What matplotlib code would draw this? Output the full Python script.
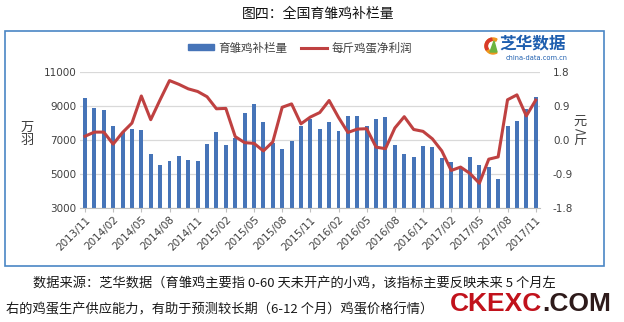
import matplotlib
matplotlib.use("Agg")
import matplotlib.pyplot as plt
from matplotlib.patches import Rectangle, Wedge, Polygon
from matplotlib.lines import Line2D
import pandas as pd

plt.rcParams['font.family'] = ['Noto Sans CJK SC', 'DejaVu Sans']

# Monthly categories 2013/11 .. 2017/11
months = [p.strftime('%Y/%m') for p in pd.period_range('2013-11', '2017-11', freq='M')]

# 育雏鸡补栏量 (万羽)
chick_stock = [9500, 8900, 8800, 7850, 7500, 7650, 7620, 6160, 5540, 5740,
               6040, 5820, 5740, 6750, 7470, 6700, 7130, 8620, 9100, 8040,
               6800, 6440, 6970, 7800, 8250, 7650, 8090, 7540, 8400, 8440,
               7830, 8230, 8330, 6690, 6160, 6010, 6620, 6560, 5960, 5700,
               5330, 5980, 5520, 5420, 4680, 7810, 8100, 8860, 9540]

# 每斤鸡蛋净利润 (元/斤)
egg_profit = [0.10, 0.21, 0.21, -0.11, 0.20, 0.45, 1.17, 0.54, 1.07, 1.58,
              1.48, 1.36, 1.29, 1.15, 0.83, 0.84, 0.09, -0.07, -0.09, -0.29,
              -0.05, 0.87, 0.96, 0.43, 0.61, 0.73, 1.05, 0.60, 0.20, 0.29,
              0.30, -0.19, -0.23, 0.32, 0.62, 0.28, 0.23, 0.03, -0.29, -0.81,
              -0.72, -0.89, -1.15, -0.51, -0.45, 1.07, 1.20, 0.64, 1.06]

left_ticks = [3000, 5000, 7000, 9000, 11000]
right_ticks = [-1.8, -0.9, 0.0, 0.9, 1.8]
label_step = 3

title_text = '图四：全国育雏鸡补栏量'
series_bar = '育雏鸡补栏量'
series_line = '每斤鸡蛋净利润'
note_line1 = '数据来源：芝华数据（育雏鸡主要指 0-60 天未开产的小鸡，该指标主要反映未来 5 个月左'
note_line2 = '右的鸡蛋生产供应能力，有助于预测较长期（6-12 个月）鸡蛋价格行情）'

W, H = 624, 322
BAR_C = '#4674B8'
LINE_C = '#BF4141'
GRID_C = '#D9D9D9'
TXT_C = '#404040'

fig = plt.figure(figsize=(W / 100, H / 100), dpi=100)
fig.patch.set_facecolor('white')

ax = fig.add_axes([80.3 / W, (H - 207.7) / H, 460.1 / W, 135.4 / H])
x = list(range(len(months)))
ax.bar(x, chick_stock, width=0.42, color=BAR_C, zorder=2)
ax.set_xlim(-0.5, len(months) - 0.5)
ax.set_ylim(left_ticks[0], left_ticks[-1])
ax.set_yticks(left_ticks)
ax.set_yticklabels([str(v) for v in left_ticks], fontsize=7.5, color=TXT_C,
                   family='DejaVu Sans')
ax.yaxis.grid(True, color=GRID_C, lw=0.9)
ax.set_axisbelow(True)
for s in ['top', 'left', 'right']:
    ax.spines[s].set_visible(False)
ax.spines['bottom'].set_color('#BFBFBF')
ax.tick_params(axis='y', length=0, pad=3)
ax.set_xticks(x[::label_step])
ax.set_xticklabels(months[::label_step], rotation=45, ha='right',
                   rotation_mode='anchor', fontsize=7.5, color=TXT_C,
                   family='DejaVu Sans')
ax.tick_params(axis='x', length=3, color='#BFBFBF', pad=2)

ax2 = ax.twinx()
ax2.plot(x, egg_profit, color=LINE_C, lw=2.2, solid_joinstyle='round', zorder=3)
ax2.set_ylim(right_ticks[0], right_ticks[-1])
ax2.set_yticks(right_ticks)
ax2.set_yticklabels(['%.1f' % v for v in right_ticks], fontsize=7.5, color=TXT_C,
                    family='DejaVu Sans')
ax2.tick_params(axis='y', length=0, pad=9)
for s in ['top', 'left', 'right', 'bottom']:
    ax2.spines[s].set_visible(False)

# Overlay in pixel coordinates for frame, titles and notes
ov = fig.add_axes([0, 0, 1, 1])
ov.set_xlim(0, W)
ov.set_ylim(H, 0)
ov.axis('off')

ov.add_patch(Rectangle((5, 30.5), 599, 235.5, fill=False, edgecolor='#4A86C5', lw=1.2))
ov.text(318, 14, title_text, ha='center', va='center', fontsize=10, color='#111111')

# axis unit labels
ov.text(27, 134, '万\n羽', ha='center', va='center', fontsize=9.5, color=TXT_C,
        linespacing=1.05)
ov.text(580, 121, '元', ha='center', va='center', fontsize=9.5, color=TXT_C)
ov.text(580, 130.5, '/', ha='center', va='center', fontsize=9.5, color=TXT_C,
        rotation=-90, family='DejaVu Sans')
ov.text(580, 141, '斤', ha='center', va='center', fontsize=9.5, color=TXT_C)

# legend
handles = [Rectangle((0, 0), 1, 1, color=BAR_C),
           Line2D([0], [0], color=LINE_C, lw=2.2)]
ov.legend(handles, [series_bar, series_line], loc='center',
          bbox_to_anchor=(300 / W, 1 - 48 / H), bbox_transform=fig.transFigure,
          ncol=2, frameon=False, fontsize=8.3, handlelength=2.2, handleheight=0.45,
          handletextpad=0.4, columnspacing=1.2, labelcolor=TXT_C)

# logo
ov.add_patch(Wedge((493, 46), 8, 60, 300, width=2.4, color='#F0961E'))
ov.add_patch(Wedge((493, 46), 8, 150, 260, width=2.4, color='#D8392B'))
ov.add_patch(Polygon([(490, 52), (494, 41), (497, 52)], closed=True, color='#6DB33F'))
ov.text(533, 43, '芝华数据', ha='center', va='center', fontsize=12,
        fontweight='bold', color='#1F5FAF')
ov.text(537, 57.5, 'china-data.com.cn', ha='center', va='center', fontsize=4.8,
        color='#1F5FAF', family='DejaVu Sans')

# notes
ov.text(33, 284, note_line1, ha='left', va='center', fontsize=9.5, color='#1a1a1a')
ov.text(6, 310, note_line2, ha='left', va='center', fontsize=9.5, color='#1a1a1a')

# site mark
ov.text(450, 311, 'CKEXC', ha='left', va='baseline', fontsize=19, fontweight='bold',
        color='#C1121C', family='Liberation Sans')
ov.text(542, 311, '.COM', ha='left', va='baseline', fontsize=19, fontweight='bold',
        color='#2E1B1B', family='Liberation Sans')

fig.savefig('out.png', dpi=100, facecolor='white')
